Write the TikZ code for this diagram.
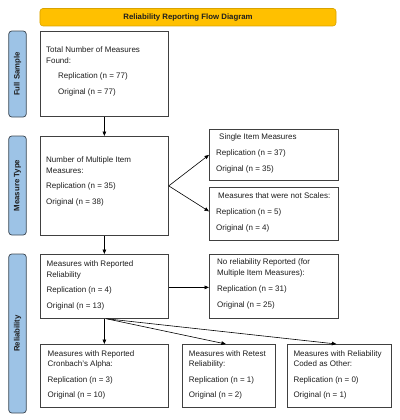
\documentclass[tikz,border=0pt]{standalone}
\usepackage{fontspec}
\setmainfont{Liberation Sans}
\usetikzlibrary{arrows.meta,calc}

\definecolor{titlefill}{HTML}{FFC000}
\definecolor{titleline}{HTML}{D9A300}
\definecolor{sidefill}{HTML}{9DC3E6}
\definecolor{sideline}{HTML}{3F4A55}
\definecolor{boxline}{HTML}{404040}
\definecolor{ink}{HTML}{1E1E1E}

\tikzset{
  base font/.style={font=\fontsize{8bp}{10.7bp}\selectfont, text=ink},
  stepbox/.style={draw=boxline, line width=0.75bp, fill=white, inner sep=0pt, anchor=north west},
  boxtext/.style={base font, align=left, inner sep=0pt, anchor=north west},
  sidebar/.style={draw=sideline, line width=0.75bp, fill=sidefill, rounded corners=3bp,
    rotate=90, inner sep=0pt, minimum height=17.5bp,
    font=\fontsize{7.8bp}{9bp}\selectfont\bfseries, text=ink},
  titlebar/.style={draw=titleline, line width=0.6bp, fill=titlefill, rounded corners=3bp,
    inner sep=0pt, font=\fontsize{7.8bp}{9bp}\selectfont\bfseries, text=ink},
  flow/.style={draw=black, line width=0.6bp, -{Triangle[length=4.5bp,width=3.6bp]}}
}

\begin{document}
\begin{tikzpicture}[x=1bp,y=-1bp]
\useasboundingbox (0,0) rectangle (400,420);

% heading bar
\node[titlebar, minimum width=296bp, minimum height=17.5bp] (title) at (188,17.2) {Reliability Reporting Flow Diagram};

% section labels down the left side
\node[sidebar, minimum width=86bp]  (secfull)  at (17.5,74)    {Full Sample};
\node[sidebar, minimum width=99bp]  (sectype)  at (17.5,185.5) {Measure Type};
\node[sidebar, minimum width=159bp] (secrel)   at (17.5,333.5) {Reliability};

% boxes
\node[stepbox, minimum width=128bp, minimum height=85bp] (total)  at (40,31)  {};
\node[stepbox, minimum width=128bp, minimum height=99bp] (multi)  at (40,136) {};
\node[stepbox, minimum width=129bp, minimum height=51bp] (single) at (209,129) {};
\node[stepbox, minimum width=129bp, minimum height=53bp] (noscale) at (209,187) {};
\node[stepbox, minimum width=128bp, minimum height=64bp] (withrel) at (40,254) {};
\node[stepbox, minimum width=129bp, minimum height=64bp] (norel)  at (209,254) {};
\node[stepbox, minimum width=128bp, minimum height=63bp] (alpha)  at (40,344) {};
\node[stepbox, minimum width=93bp,  minimum height=63bp] (retest) at (182,344) {};
\node[stepbox, minimum width=104bp, minimum height=63bp] (other)  at (287,344) {};

% box contents
\node[boxtext] (totaltxt) at (46,46.5)
  {Total Number of Measures\\Found:\\[4.3bp]
   \hspace*{12bp}Replication (n = 77)\\[5.1bp]
   \hspace*{12bp}Original (n = 77)};
\node[boxtext] (multitxt) at (46,156.8)
  {Number of Multiple Item\\Measures:\\[4.3bp]
   Replication (n = 35)\\[5.1bp]
   Original (n = 38)};
\node[boxtext] (singletxt) at (216,133.8)
  {\hspace*{3bp}Single Item Measures\\[5.1bp]
   Replication (n = 37)\\[5.6bp]
   Original (n = 35)};
\node[boxtext] (noscaletxt) at (216,192.8)
  {\hspace*{2bp}Measures that were not Scales:\\[5.1bp]
   Replication (n = 5)\\[5.1bp]
   Original (n = 4)};
\node[boxtext] (withreltxt) at (46.5,260.8)
  {Measures with Reported\\Reliability\\[4.3bp]
   Replication (n = 4)\\[5.6bp]
   Original (n = 13)};
\node[boxtext] (noreltxt) at (217,258.8)
  {No reliability Reported (for\\Multiple Item Measures):\\[5.6bp]
   Replication (n = 31)\\[5.1bp]
   Original (n = 25)};
\node[boxtext] (alphatxt) at (47.5,350.1)
  {Measures with Reported\\Cronbach's Alpha:\\[4.8bp]
   Replication (n = 3)\\[4.8bp]
   Original (n = 10)};
\node[boxtext] (retesttxt) at (188.7,350.1)
  {Measures with Retest\\Reliability:\\[4.8bp]
   Replication (n = 1)\\[4.8bp]
   Original (n = 2)};
\node[boxtext] (othertxt) at (293.3,350.1)
  {Measures with Reliability\\Coded as Other:\\[4.8bp]
   Replication (n = 0)\\[4.8bp]
   Original (n = 1)};

% connectors
\coordinate (fork) at ($(withrel.south)+(2,0)$);
\draw[flow] (total.south) -- (multi.north);
\draw[flow] (multi.east) -- (single.west);
\draw[flow] (multi.east) -- ($(noscale.west)+(0,-2.5)$);
\draw[flow] (multi.south) -- (withrel.north);
\draw[flow] ($(withrel.east)+(0,1)$) -- ($(norel.west)+(0,1)$);
\draw[flow] (withrel.south) -- (alpha.north);
\draw[flow] (fork) -- ($(retest.north)+(-3,0)$);
\draw[flow] (fork) -- ($(other.north)+(-3,0)$);
\end{tikzpicture}
\end{document}
